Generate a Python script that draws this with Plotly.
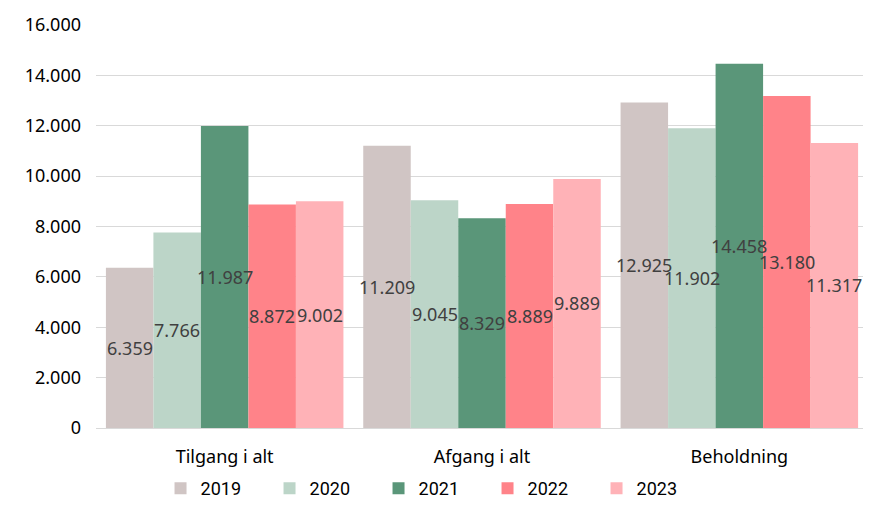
import plotly.graph_objects as go

categories = ['Tilgang i alt', 'Afgang i alt', 'Beholdning']
years = ['2019', '2020', '2021', '2022', '2023']
values_2019 = [6359, 11209, 12925]
values_2020 = [7766, 9045, 11902]
values_2021 = [11987, 8329, 14458]
values_2022 = [8872, 8889, 13180]
values_2023 = [9002, 9889, 11317]
y_ticks = [0, 2000, 4000, 6000, 8000, 10000, 12000, 14000, 16000]
y_tick_labels = ['0', '2.000', '4.000', '6.000', '8.000', '10.000', '12.000', '14.000', '16.000']

series = [values_2019, values_2020, values_2021, values_2022, values_2023]
colors = ['#D0C5C4', '#BCD5C8', '#5A9679', '#FF8389', '#FFB2B7']

FONT = 'Noto Sans, Inter, sans-serif'
LEGEND_FONT = 'Liberation Sans Narrow, Arial Narrow, Roboto, sans-serif'
BARGAP = 0.077


def fmt(v):
    return f'{v:,}'.replace(',', '.')


fig = go.Figure()
for year, vals, color in zip(years, series, colors):
    fig.add_trace(
        go.Bar(
            x=categories,
            y=vals,
            name=year,
            marker=dict(color=color, line=dict(width=0)),
            hovertemplate=f'{year}<br>%{{x}}: %{{y:,}}<extra></extra>',
        )
    )

# value labels drawn on top of every bar (they overflow into neighbours, as in the original)
n = len(series)
bar_w = (1 - BARGAP) / n
for j, vals in enumerate(series):
    for i, v in enumerate(vals):
        fig.add_annotation(
            x=i + (j - (n - 1) / 2) * bar_w,
            y=v / 2,
            xref='x',
            yref='y',
            text=fmt(v),
            showarrow=False,
            font=dict(color='#404040', size=18, family=FONT),
        )

fig.update_layout(
    width=863,
    height=499,
    barmode='group',
    bargap=BARGAP,
    bargroupgap=0,
    plot_bgcolor='white',
    paper_bgcolor='white',
    font=dict(family=FONT, size=18, color='#000000'),
    margin=dict(l=88, r=3, t=17, b=79, autoexpand=False),
    legend=dict(
        orientation='h', xref='container', x=0.4925, xanchor='center',
        yref='container', y=0.0, yanchor='bottom',
        font=dict(size=18, family=LEGEND_FONT), itemwidth=30, traceorder='normal',
        entrywidth=64,
    ),
    showlegend=True,
)
fig.update_yaxes(
    range=[0, 16000],
    tickvals=y_ticks,
    ticktext=y_tick_labels,
    showgrid=True,
    gridcolor='#D9D9D9',
    gridwidth=1,
    zeroline=False,
    showline=False,
    ticklabelstandoff=14,
)
fig.update_xaxes(
    showline=True,
    linecolor='#D9D9D9',
    linewidth=1,
    ticks='',
    ticklabelstandoff=12,
)

fig.write_html('out.html')
